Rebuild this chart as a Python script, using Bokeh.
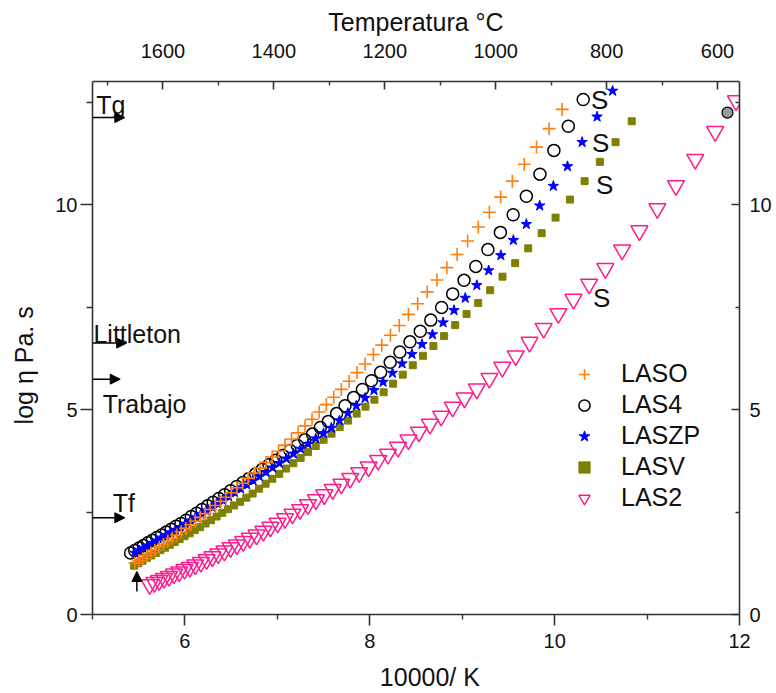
from bokeh.plotting import figure
from bokeh.models import (Range1d, LinearAxis, FixedTicker, Label, Arrow, NormalHead,
                          Legend, LegendItem)
from bokeh.embed import file_html
from bokeh.resources import INLINE

FONT = "Liberation Sans"

# ---------------- data ----------------
LASO_X = [5.459, 5.501, 5.543, 5.587, 5.631, 5.675, 5.721, 5.767, 5.814, 5.862, 5.910, 5.959,
          6.010, 6.061, 6.112, 6.165, 6.219, 6.274, 6.329, 6.386, 6.443, 6.502, 6.562, 6.623,
          6.684, 6.748, 6.812, 6.878, 6.944, 7.013, 7.082, 7.153, 7.225, 7.299, 7.375, 7.452,
          7.530, 7.610, 7.692, 7.776, 7.862, 7.949, 8.039, 8.130, 8.224, 8.319, 8.418, 8.518,
          8.621, 8.726, 8.834, 8.945, 9.058, 9.174, 9.294, 9.416, 9.542, 9.671, 9.804, 9.940, 10.081]
LASO_Y = [1.25, 1.31, 1.37, 1.44, 1.50, 1.57, 1.64, 1.71, 1.79, 1.86, 1.94, 2.02, 2.10, 2.19,
          2.28, 2.37, 2.46, 2.56, 2.66, 2.76, 2.86, 2.97, 3.09, 3.20, 3.32, 3.45, 3.57, 3.71,
          3.84, 3.98, 4.13, 4.28, 4.43, 4.60, 4.76, 4.94, 5.12, 5.30, 5.49, 5.69, 5.90, 6.11,
          6.34, 6.57, 6.81, 7.05, 7.32, 7.58, 7.87, 8.16, 8.46, 8.78, 9.11, 9.45, 9.81, 10.18,
          10.57, 10.98, 11.40, 11.85, 12.32]

LAS4_X = [5.412, 5.457, 5.504, 5.551, 5.598, 5.647, 5.697, 5.747, 5.798, 5.851, 5.904, 5.958,
          6.013, 6.069, 6.127, 6.185, 6.245, 6.305, 6.367, 6.430, 6.494, 6.560, 6.627, 6.695,
          6.765, 6.836, 6.909, 6.983, 7.059, 7.137, 7.216, 7.297, 7.380, 7.465, 7.552, 7.641,
          7.732, 7.825, 7.920, 8.018, 8.118, 8.221, 8.326, 8.435, 8.546, 8.660, 8.777, 8.897,
          9.020, 9.147, 9.278, 9.413, 9.551, 9.694, 9.841, 9.992, 10.148, 10.309]
LAS4_Y = [1.50, 1.56, 1.62, 1.68, 1.75, 1.81, 1.88, 1.94, 2.01, 2.08, 2.15, 2.22, 2.30, 2.39,
          2.47, 2.56, 2.65, 2.74, 2.83, 2.92, 3.02, 3.12, 3.22, 3.32, 3.43, 3.54, 3.65, 3.76,
          3.88, 4.00, 4.12, 4.26, 4.40, 4.56, 4.71, 4.90, 5.09, 5.29, 5.49, 5.70, 5.91, 6.15,
          6.40, 6.65, 6.91, 7.18, 7.49, 7.82, 8.15, 8.49, 8.90, 9.32, 9.75, 10.20, 10.74, 11.32,
          11.91, 12.56]

LASZP_X = [5.459, 5.504, 5.550, 5.597, 5.645, 5.693, 5.743, 5.793, 5.844, 5.896, 5.949, 6.003,
           6.058, 6.114, 6.171, 6.229, 6.288, 6.348, 6.410, 6.472, 6.536, 6.602, 6.668, 6.736,
           6.805, 6.876, 6.948, 7.021, 7.097, 7.174, 7.252, 7.332, 7.415, 7.499, 7.584, 7.672,
           7.762, 7.854, 7.949, 8.045, 8.144, 8.245, 8.349, 8.456, 8.565, 8.678, 8.793, 8.911,
           9.033, 9.158, 9.286, 9.418, 9.554, 9.694, 9.838, 9.986, 10.139, 10.297, 10.459, 10.627]
LASZP_Y = [1.50, 1.56, 1.62, 1.68, 1.74, 1.80, 1.87, 1.93, 2.00, 2.06, 2.13, 2.21, 2.29, 2.37,
           2.45, 2.53, 2.62, 2.71, 2.79, 2.88, 2.98, 3.07, 3.17, 3.27, 3.37, 3.47, 3.58, 3.69,
           3.80, 3.92, 4.04, 4.16, 4.29, 4.42, 4.55, 4.73, 4.91, 5.09, 5.28, 5.47, 5.67, 5.89,
           6.12, 6.35, 6.59, 6.83, 7.12, 7.42, 7.72, 8.03, 8.39, 8.76, 9.13, 9.52, 9.97, 10.45,
           10.93, 11.52, 12.14, 12.77]

LASV_X = [5.450, 5.495, 5.541, 5.588, 5.636, 5.685, 5.735, 5.785, 5.836, 5.889, 5.942, 5.996,
          6.051, 6.107, 6.165, 6.223, 6.282, 6.343, 6.404, 6.467, 6.532, 6.597, 6.664, 6.732,
          6.802, 6.873, 6.945, 7.020, 7.095, 7.173, 7.252, 7.332, 7.415, 7.500, 7.586, 7.675,
          7.765, 7.858, 7.953, 8.050, 8.150, 8.252, 8.357, 8.465, 8.575, 8.688, 8.804, 8.924,
          9.047, 9.173, 9.302, 9.436, 9.573, 9.714, 9.860, 10.010, 10.165, 10.324, 10.489,
          10.659, 10.834]
LASV_Y = [1.19, 1.25, 1.31, 1.38, 1.44, 1.50, 1.57, 1.63, 1.70, 1.77, 1.84, 1.91, 1.98, 2.06,
          2.13, 2.22, 2.30, 2.39, 2.48, 2.57, 2.66, 2.75, 2.85, 2.95, 3.07, 3.19, 3.31, 3.43,
          3.56, 3.69, 3.82, 3.96, 4.11, 4.26, 4.41, 4.57, 4.73, 4.90, 5.07, 5.24, 5.42, 5.63,
          5.85, 6.08, 6.31, 6.55, 6.79, 7.06, 7.33, 7.60, 7.91, 8.24, 8.57, 8.93, 9.30, 9.68,
          10.12, 10.57, 11.04, 11.52, 12.03]

LAS2_X = [5.618, 5.669, 5.721, 5.774, 5.828, 5.882, 5.938, 5.995, 6.053, 6.112, 6.173, 6.234,
          6.297, 6.361, 6.427, 6.494, 6.562, 6.631, 6.702, 6.775, 6.849, 6.925, 7.003, 7.082,
          7.163, 7.246, 7.331, 7.418, 7.508, 7.599, 7.692, 7.788, 7.886, 7.987, 8.091, 8.197,
          8.306, 8.418, 8.532, 8.651, 8.772, 8.897, 9.025, 9.158, 9.294, 9.434, 9.579, 9.728,
          9.881, 10.040, 10.204, 10.373, 10.549, 10.730, 10.917, 11.111, 11.312, 11.521,
          11.737, 11.962]
LAS2_Y = [0.73, 0.78, 0.83, 0.88, 0.93, 0.99, 1.04, 1.10, 1.15, 1.21, 1.27, 1.34, 1.41, 1.48,
          1.55, 1.63, 1.70, 1.78, 1.86, 1.94, 2.03, 2.13, 2.23, 2.34, 2.45, 2.56, 2.68, 2.80,
          2.92, 3.05, 3.18, 3.32, 3.46, 3.60, 3.76, 3.91, 4.08, 4.26, 4.45, 4.64, 4.84, 5.06,
          5.28, 5.50, 5.76, 6.03, 6.31, 6.64, 6.98, 7.34, 7.69, 8.06, 8.44, 8.89, 9.36, 9.90,
          10.46, 11.10, 11.78, 12.53]

# extra grey point
GRAY_X = [11.870]
GRAY_Y = [12.24]

# axis ticks
X_TICKS = [6, 8, 10, 12]
X_MINOR = [5, 7, 9, 11]
Y_TICKS = [0, 5, 10]
Y_MINOR = [2.5, 7.5, 12.5]
T_TICKS = [600, 800, 1000, 1200, 1400, 1600]
T_MINOR = [700, 900, 1100, 1300, 1500, 1700]

# reference-level annotations
MARKS = ["Tg", "Littleton", "Trabajo", "Tf"]
MARK_ARROW_Y = [12.12, 6.62, 5.74, 2.36]
MARK_ARROW_X0 = [4.97, 5.0, 5.0, 4.97]
MARK_ARROW_X1 = [5.35, 5.37, 5.30, 5.35]
MARK_TEXT_X = [5.04, 5.01, 5.11, 5.22]
MARK_TEXT_Y = [12.43, 6.85, 5.13, 2.72]

S_X = [10.486, 10.497, 10.54, 10.51]
S_Y = [12.55, 11.49, 10.48, 7.71]

ORANGE = "#FF7F0E"
BLACK = "#000000"
BLUE = "#0000FF"
OLIVE = "#808000"
PINK = "#FF1A8C"
AXIS_C = "#333333"
TXT_C = "#111111"
NB = "\u00a0"

p = figure(width=776, height=693, x_range=Range1d(5, 12), y_range=Range1d(0, 13),
           output_backend="svg", toolbar_location=None,
           min_border_left=92, min_border_right=37, min_border_top=81, min_border_bottom=78)
p.xgrid.visible = False
p.ygrid.visible = False
p.outline_line_color = None
p.background_fill_color = "white"
p.border_fill_color = "white"

p.extra_x_ranges = {"T": Range1d(1727.0, 560.4)}


def style(ax, tick_in, tick_out, mtick_in, mtick_out, standoff):
    ax.axis_line_color = AXIS_C
    ax.axis_line_width = 1.6
    ax.major_tick_line_color = AXIS_C
    ax.major_tick_line_width = 1.6
    ax.minor_tick_line_color = AXIS_C
    ax.minor_tick_line_width = 1.4
    ax.major_tick_in = tick_in
    ax.major_tick_out = tick_out
    ax.minor_tick_in = mtick_in
    ax.minor_tick_out = mtick_out
    ax.major_label_standoff = standoff
    ax.major_label_text_font = FONT
    ax.major_label_text_font_size = "20px"
    ax.major_label_text_color = TXT_C
    ax.axis_label_text_font = FONT
    ax.axis_label_text_font_size = "25px"
    ax.axis_label_text_font_style = "normal"
    ax.axis_label_text_color = TXT_C


xb = p.xaxis[0]
xb.ticker = FixedTicker(ticks=X_TICKS, minor_ticks=X_MINOR)
style(xb, 0, 11, 0, 5, 8)
xb.axis_label = NB * 4 + "10000/ K"
xb.axis_label_standoff = 12

yl = p.yaxis[0]
yl.ticker = FixedTicker(ticks=Y_TICKS, minor_ticks=Y_MINOR)
style(yl, 0, 12, 0, 6, 3)
yl.axis_label = "log \u03b7 Pa. s" + NB * 5
yl.axis_label_standoff = 14

xt = LinearAxis(x_range_name="T", ticker=FixedTicker(ticks=T_TICKS, minor_ticks=T_MINOR))
style(xt, 8, 0, 4, 0, 24)
xt.axis_label = "Temperatura \u00b0C"
xt.axis_label_standoff = 5
p.add_layout(xt, "above")

yr = LinearAxis(ticker=FixedTicker(ticks=Y_TICKS, minor_ticks=Y_MINOR))
style(yr, 8, 0, 4, 0, 10)
p.add_layout(yr, "right")

# ---------------- series ----------------
r_v = p.scatter(LASV_X, LASV_Y, marker="square", size=7, fill_color=OLIVE, line_color=OLIVE)
r_4 = p.scatter(LAS4_X, LAS4_Y, marker="circle", size=12, fill_color=None,
                line_color=BLACK, line_width=1.5)
r_zp = p.scatter(LASZP_X, LASZP_Y, marker="star", size=11, fill_color=BLUE, line_color=BLUE)
r_o = p.scatter(LASO_X, LASO_Y, marker="cross", size=13, line_color=ORANGE, line_width=1.6)
r_2 = p.scatter(LAS2_X, LAS2_Y, marker="inverted_triangle", size=17, fill_color=None,
                line_color=PINK, line_width=1.5)
p.scatter(GRAY_X, GRAY_Y, marker="circle", size=11, fill_color="#9a9a9a",
          line_color="black", line_width=1.2)

# ---------------- annotations ----------------
for name, ay, ax0, ax1, tx, ty in zip(MARKS, MARK_ARROW_Y, MARK_ARROW_X0, MARK_ARROW_X1,
                                      MARK_TEXT_X, MARK_TEXT_Y):
    p.add_layout(Arrow(end=NormalHead(size=10, fill_color="black", line_color="black",
                                      line_width=1),
                       x_start=ax0, y_start=ay, x_end=ax1, y_end=ay,
                       line_color="black", line_width=1.5))
    p.add_layout(Label(x=tx, y=ty, text=name, text_font=FONT, text_font_size="25px",
                       text_color=TXT_C, text_align="left", text_baseline="alphabetic"))

# vertical arrow near the start of the data
p.add_layout(Arrow(end=NormalHead(size=10, fill_color="black", line_color="black", line_width=1),
                   x_start=5.48, y_start=0.56, x_end=5.48, y_end=1.05,
                   line_color="black", line_width=1.5))

for sx, sy in zip(S_X, S_Y):
    p.add_layout(Label(x=sx, y=sy, text="S", text_font=FONT, text_font_size="26px",
                       text_color=TXT_C, text_align="center", text_baseline="middle"))

# ---------------- legend ----------------
legend = Legend(items=[LegendItem(label="LASO", renderers=[r_o]),
                       LegendItem(label="LAS4", renderers=[r_4]),
                       LegendItem(label="LASZP", renderers=[r_zp]),
                       LegendItem(label="LASV", renderers=[r_v]),
                       LegendItem(label="LAS2", renderers=[r_2])],
                location=(478, 102),
                label_text_font=FONT, label_text_font_size="25px", label_text_color=TXT_C,
                glyph_width=28, glyph_height=28, label_height=28, spacing=2,
                padding=0, margin=0, label_standoff=23,
                border_line_color=None, background_fill_alpha=0)
p.add_layout(legend)

open("out.html", "w").write(file_html(p, INLINE))
